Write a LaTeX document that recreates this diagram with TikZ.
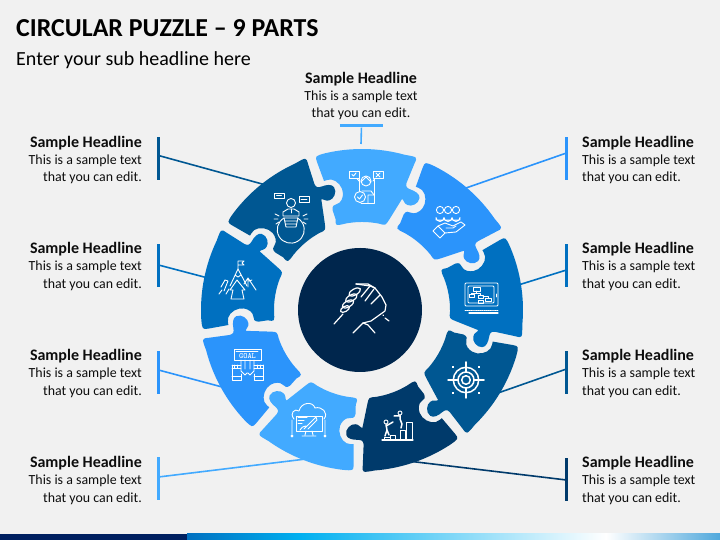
\documentclass[tikz,border=0pt]{standalone}
\usepackage{fontspec}
\setmainfont{Carlito}
\definecolor{pageback}{HTML}{F1F1F1}
\definecolor{partlight}{HTML}{42AAFF}
\definecolor{partmid}{HTML}{2B94FB}
\definecolor{partblue}{HTML}{0070C0}
\definecolor{partdark}{HTML}{005792}
\definecolor{partnavy}{HTML}{003A6B}
\definecolor{hubnavy}{HTML}{00264D}
\definecolor{inktext}{HTML}{0D0D0D}
\definecolor{stripnavy}{HTML}{002060}
\definecolor{stripsky}{HTML}{00B0F0}
\definecolor{stripend}{HTML}{4FA8DC}
\newcommand{\puzzlepath}{(103:161) arc[start angle=103,end angle=74.5,radius=161]
  .. controls (55.5,153) .. (52.5,146.5) -- (44.5,127)
  .. controls (43.5,123) and (45,122) .. (48.5,120.5)
  .. controls (53,119) and (58,116) .. (57.5,112)
  .. controls (57,106) and (49,103) .. (45.5,105)
  .. controls (42,106) and (42,110) .. (40,111) -- (27,90)
  .. controls (23.5,84.5) .. (16.8,86.4) arc[start angle=79,end angle=101,radius=88]
  .. controls (-26.5,84) .. (-26.5,91) -- (-29.5,100)
  .. controls (-30,104) and (-28,105.5) .. (-25,106)
  .. controls (-21,107) and (-19,112) .. (-19,116.5)
  .. controls (-19,123) and (-25,130) .. (-31,130.5)
  .. controls (-34,130.5) and (-36.5,129.5) .. (-38,129) -- (-45,148)
  .. controls (-47,154) .. (-36.2,156.9) -- cycle}
\newcommand{\blocktext}{{\fontsize{16}{17.2}\selectfont\bfseries Sample Headline}\\This is a sample text\\that you can edit.}
\tikzset{
  headblock/.style={text=inktext,font=\fontsize{13.9}{17.2}\selectfont,inner sep=0pt},
  tickbar/.style={rectangle,inner sep=0pt,minimum width=3pt,minimum height=43pt},
  linkline/.style={line width=1.6pt},
  iconline/.style={draw=white,line width=.9pt,line join=round,line cap=round}
}
\begin{document}
\begin{tikzpicture}[x=1pt,y=1pt]
\fill[pageback] (0,0) rectangle (720,540);
\useasboundingbox (0,0) rectangle (720,540);
% strip at the bottom
\fill[stripnavy] (0,0) rectangle (187,6);
\fill[left color=partblue,right color=stripsky] (187,0) rectangle (300,6);
\fill[left color=stripsky,right color=white] (300,0) rectangle (606,6);
\fill[left color=white,right color=stripend] (606,0) rectangle (720,6);
% titles
\node[anchor=west,inner sep=0pt,text=black,font=\fontsize{25.9}{28}\selectfont\bfseries] (title) at (16,511.5) {CIRCULAR PUZZLE -- 9 PARTS};
\node[anchor=west,inner sep=0pt,text=black,font=\fontsize{20}{24}\selectfont] (subtitle) at (16,480) {Enter your sub headline here};
% text blocks
\foreach \tname/\typos in {leftA/380,leftB/273.5,leftC/166.5,leftD/59.5}
  \node[headblock,anchor=east,align=right] (\tname) at (142,\typos) {\blocktext};
\foreach \tname/\typos in {rightA/380,rightB/273.5,rightC/166.5,rightD/59.5}
  \node[headblock,anchor=west,align=left] (\tname) at (582,\typos) {\blocktext};
\node[headblock,align=center] (topblock) at (361,444) {\blocktext};
% bars
\node[tickbar,fill=partdark] (barA) at (158.5,381.5) {};
\node[tickbar,fill=partblue] (barB) at (158.5,274.5) {};
\node[tickbar,fill=partmid] (barC) at (158.5,167) {};
\node[tickbar,fill=partlight] (barD) at (158.5,61) {};
\node[tickbar,fill=partmid] (barE) at (566.5,381.5) {};
\node[tickbar,fill=partblue] (barF) at (566.5,274.5) {};
\node[tickbar,fill=partdark] (barG) at (566.5,167.5) {};
\node[tickbar,fill=partnavy] (barH) at (566.5,60.5) {};
\node[rectangle,inner sep=0pt,minimum width=43pt,minimum height=3pt,fill=partlight] (barT) at (361.5,414) {};
% link ends
\coordinate (startA) at (158.5,384.5);
\coordinate (startB) at (158.5,275);
\coordinate (startC) at (158.5,170);
\coordinate (startD) at (158.5,63);
\coordinate (startE) at (566.5,387);
\coordinate (startF) at (566.5,270);
\coordinate (startG) at (566.5,171);
\coordinate (startH) at (566.5,60);
\coordinate (endA) at (264,355.5);
\coordinate (endB) at (206,262.5);
\coordinate (endC) at (224,152.5);
\coordinate (endD) at (306,81);
\coordinate (endE) at (466,352);
\coordinate (endF) at (520,255.5);
\coordinate (endG) at (498,147);
\coordinate (endH) at (412,78.5);
\coordinate (endT) at (361,396);
\draw[linkline,partdark] (startA) -- (endA);
\draw[linkline,partblue] (startB) -- (endB);
\draw[linkline,partmid] (startC) -- (endC);
\draw[linkline,partlight] (startD) -- (endD);
\draw[linkline,partmid] (startE) -- (endE);
\draw[linkline,partblue] (startF) -- (endF);
\draw[linkline,partdark] (startG) -- (endG);
\draw[linkline,partnavy] (startH) -- (endH);
\draw[linkline,partlight] (barT) -- (endT);
% puzzle parts
\foreach \idx/\col in {0/partlight,1/partmid,2/partblue,3/partdark,4/partnavy,5/partlight,6/partmid,7/partblue,8/partdark}
{
  \begin{scope}[shift={(362,230)},rotate=-40*\idx]
    \fill[\col] \puzzlepath;
  \end{scope}
}
\node[circle,inner sep=0pt,minimum size=124pt,fill=hubnavy] (hub) at (360,230) {};
% doubt icon
\begin{scope}[shift={(349,370)},yscale=-1,iconline]
  \draw (0,1) rectangle (10,8.5) (24,1) rectangle (34,8.5);
  \draw (3,4.5) -- (4.5,6) -- (7,3) (27,3) -- (31,7) (31,3) -- (27,7);
  \draw (8,8.5) -- (10,11) (26,8.5) -- (24,11);
  \draw (17,11) circle (5);
  \draw (10,9) -- (10,21) (25,9) -- (25,33) -- (12,33);
  \draw (12,12) -- (17,7) -- (22,12) (13,21) -- (22,21) -- (25,25);
  \draw (11,27) circle (5.5);
  \draw (8.5,27) -- (10.5,29) -- (13.5,25) (19,25) -- (25,25) (19,25) -- (19,33);
\end{scope}
% bulb icon
\begin{scope}[shift={(274,348)},yscale=-1,iconline]
  \draw (10,26) arc[start angle=240,end angle=-60,radius=13.5];
  \draw (17,11) circle (4.5);
  \draw (9,24) -- (9,20) -- (14,17) -- (20,17) -- (25,20) -- (25,24) -- cycle;
  \draw (17,17) -- (17,21);
  \draw (10,26) -- (24,26) -- (22,35) -- (12,35) -- cycle (11,29) -- (23,29) (11.5,32) -- (22.5,32);
  \draw[fill=partdark] (0,1) rectangle (10,6.5) (2.5,3.7) -- (7.5,3.7);
  \draw[fill=partdark] (25,4) rectangle (35,10) (27,7) -- (33,7);
  \draw (1,22) -- (5,24) (0,27) -- (4,27) (2,32) -- (5,30);
  \draw (33,22) -- (29,24) (34,27) -- (30,27) (32,32) -- (29,30);
\end{scope}
% people on a hand
\begin{scope}[shift={(433,334)},yscale=-1,iconline]
  \draw (7,4) circle (3.6) (15,4) circle (3.6) (23,4) circle (3.6);
  \draw (3,14) -- (3,11.5) arc[start angle=180,end angle=0,radius=4] -- (11,14)
        (11,11.5) arc[start angle=180,end angle=0,radius=4] (19,11.5) arc[start angle=180,end angle=0,radius=4] -- (27,14) -- (3,14);
  \draw (0,25) -- (5,20) -- (12,27) -- (7,32) -- cycle;
  \draw (5,20) -- (12,17) -- (20,20) -- (28,16) -- (32,19) -- (23,26) -- (12,27);
  \draw (13,22) -- (20,22) -- (23,20);
\end{scope}
% chart tablet
\begin{scope}[shift={(465,257)},yscale=-1,iconline]
  \draw[rounded corners=1pt] (0,0) rectangle (33,23) (3,3) rectangle (29,20);
  \draw (8,4) rectangle (15,8) (4,11) rectangle (9,14) (13,12) rectangle (18,15) (20,15) rectangle (26,18) (13,17) rectangle (18,20);
  \draw (11,8) -- (11,10) -- (6,10) -- (6,11) (11,10) -- (15,10) -- (15,12) (18,13) -- (23,13) -- (23,15);
  \draw (31,11) -- (31,14);
  \draw[densely dotted] (0,27) -- (33,27);
  \draw[line width=1.2pt] (4,30) -- (33,30);
\end{scope}
% target
\begin{scope}[shift={(466,160)},iconline,line width=1.5pt]
  \draw (0,0) circle (12.7) (0,0) circle (8) (0,0) circle (4.3);
  \draw (-18,0) -- (-8,0) (8,0) -- (18,0) (0,-18) -- (0,-8) (0,8) -- (0,18);
  \foreach \dotx/\doty in {-13/-13,13/-13,-13/13,13/13}
    \fill[white] (\dotx-1,\doty-1) rectangle (\dotx+1,\doty+1);
\end{scope}
% climbing
\begin{scope}[shift={(382,130)},yscale=-1,iconline]
  \draw[line width=1.1pt] (0,30) -- (31,30);
  \draw (2,30) -- (2,27) -- (8,27) (8,30) -- (8,25) -- (13,25) -- (13,30) (18,30) -- (18,20) -- (23,20) -- (23,30) (24,30) -- (24,12) -- (30,12) -- (30,30);
  \draw (18,3) circle (2) (4,12) circle (2);
  \draw[line width=1.5pt] (18,5.5) -- (18,9) -- (20,14) -- (19,18) (17,6) -- (12,6);
  \draw[line width=1.5pt] (4,14.5) -- (5,20) -- (7,25) (4,16) -- (11,12) (5,20) -- (3,26);
\end{scope}
% cloud screen
\begin{scope}[shift={(292,137)},yscale=-1,iconline]
  \draw (2,16) .. controls (-3,10) and (3,5) .. (7,8) .. controls (9,-1) and (21,-2) .. (23,5) .. controls (30,3) and (37,10) .. (32,16);
  \draw (4,13) rectangle (30,28);
  \draw (14,28) -- (13,32) (20,28) -- (21,32) (10,33) -- (24,33);
  \draw (12,26) -- (24,14) -- (25,17) -- (16,26) (14,23) .. controls (10,24) .. (8,27);
  \draw[line width=1pt] (6,15) -- (15,15) (6,18) -- (12,18) (6,21) -- (10,21);
  \draw (0,17) -- (0,31) (33,17) -- (33,31) (0,33) circle (1) (33,33) circle (1);
\end{scope}
% goal banner
\begin{scope}[shift={(231,191)},yscale=-1,iconline]
  \draw (3,0) rectangle (30,11) (5,2) -- (27,2);
  \node[inner sep=0pt,text=white,font=\ttfamily\bfseries\fontsize{8}{8}\selectfont] (goaltext) at (16.5,7) {GOAL};
  \draw (10,11) -- (10,22) -- (14,26) -- (16,24) (23,11) -- (23,22) -- (19,26) -- (17,24) (14,11) -- (14,20) (19,11) -- (19,20);
  \draw (1,16) -- (1,31) -- (10,31) -- (10,25) (1,16) -- (10,16) (1,19) -- (10,19) (3.5,16) -- (3.5,19) (6.5,16) -- (6.5,19);
  \draw (32,16) -- (32,31) -- (23,31) -- (23,25) (32,16) -- (23,16) (32,19) -- (23,19) (29.5,16) -- (29.5,19) (26.5,16) -- (26.5,19);
  \draw (1,27) -- (10,27) (23,27) -- (32,27);
\end{scope}
% mountain flag
\begin{scope}[shift={(218,280)},yscale=-1,iconline]
  \draw (20,1) -- (20,9) (20,1) -- (26,1) -- (24,3) -- (26,5) -- (20,5);
  \draw (12,26) -- (20,9) -- (29,26) (17,15) -- (20,17) -- (23,15);
  \draw (19,20) -- (12,30) -- (15,30) -- (13,39) -- (26,39) -- (24,30) -- (27,30) -- cycle;
  \draw (30,27) -- (30,18) -- (38,30) (30,18) -- (26,24) (31,21) -- (34,20);
  \draw (7,20) -- (3,27) (10,21) -- (6,31) (7,20) -- (10,21) (1,34) -- (4,30) (8,34) -- (11,29);
\end{scope}
% arm wrestling
\begin{scope}[shift={(333,257)},yscale=-1,iconline,line width=1.2pt]
  \draw[rotate around={-30:(21.7,9)}] (21.7,9) ellipse (6.5 and 3);
  \draw[rotate around={-30:(18.3,15)}] (18.3,15) ellipse (6.5 and 3);
  \draw[rotate around={-30:(15,21)}] (15,21) ellipse (6.5 and 3);
  \draw[rotate around={-30:(12,26)}] (12,26) ellipse (5 and 2.6);
  \draw (10,31) -- (1,41);
  \draw (23,1) -- (37,3) -- (42,5) -- (49,14) -- (53,22) -- (52,28) -- (38,38) -- (30,40) -- (20,50);
  \draw (30,40) -- (35,42) -- (42,50);
  \draw (23,1) -- (35,1) -- (42,5) (37,3) -- (28,14) (41,6) -- (32,18) (47,12) -- (38,21);
  \draw (50,32) -- (50.5,32.5) (52,35) -- (56,38);
\end{scope}
\end{tikzpicture}
\end{document}
